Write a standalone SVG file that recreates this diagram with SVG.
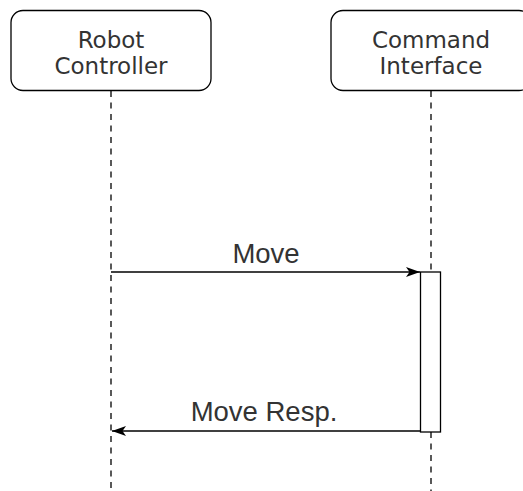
<svg xmlns="http://www.w3.org/2000/svg" width="523" height="491" viewBox="0 0 523 491">
<style>
.box{fill:#fff;stroke:#000;stroke-width:1.3}
.life{fill:none;stroke:#000;stroke-width:1.3;stroke-dasharray:6 5.5}
.msg{fill:none;stroke:#000;stroke-width:1.3}
.act{fill:#fff;stroke:#000;stroke-width:1.3}
.lbl{font-family:"DejaVu Sans",Verdana,sans-serif;font-size:23px;fill:#333;text-anchor:middle}
.mlbl{font-family:"Liberation Sans",Arial,sans-serif;font-size:27.5px;fill:#333;text-anchor:middle}
</style>
<defs>
<marker id="ah" viewBox="0 0 14 10" refX="14" refY="5" markerWidth="14" markerHeight="10" markerUnits="userSpaceOnUse" orient="auto">
<path d="M0,0 L14,5 L0,10 L3.5,5 Z" fill="#000"/>
</marker>
</defs>
<rect width="523" height="491" fill="#fff"/>
<g id="lifelines">
<line class="life" x1="111" y1="91" x2="111" y2="491"/>
<line class="life" x1="431" y1="91" x2="431" y2="272"/>
<line class="life" x1="431" y1="432" x2="431" y2="491"/>
</g>
<g id="robot-controller">
<rect class="box" x="11" y="10.5" width="200" height="80" rx="12"/>
<text class="lbl" x="111" y="47.7">Robot</text>
<text class="lbl" x="111" y="74.3">Controller</text>
</g>
<g id="command-interface">
<rect class="box" x="331" y="10.5" width="200" height="80" rx="12"/>
<text class="lbl" x="431" y="47.7">Command</text>
<text class="lbl" x="431" y="74.3">Interface</text>
</g>
<g id="activation">
<rect class="act" x="420.5" y="272" width="20" height="160"/>
</g>
<g id="connectors">
<line class="msg" x1="111" y1="272" x2="420" y2="272" marker-end="url(#ah)"/>
<text class="mlbl" x="266" y="263.3">Move</text>
<line class="msg" x1="420.5" y1="431" x2="112" y2="431" marker-end="url(#ah)"/>
<text class="mlbl" x="264" y="420.5">Move Resp.</text>
</g>
</svg>
